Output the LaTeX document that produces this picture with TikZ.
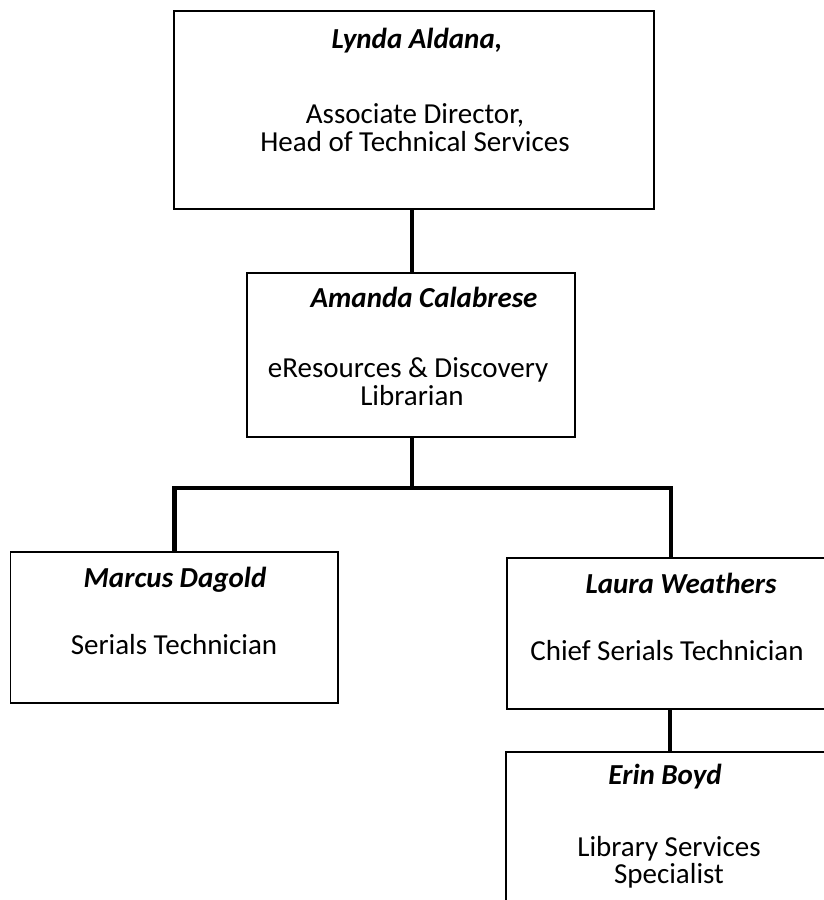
\documentclass[tikz,border=0pt]{standalone}
\usepackage{fontspec}
\setmainfont{Carlito}
\begin{document}
\begin{tikzpicture}[x=1pt,y=-1pt,
  box/.style={draw=black,line width=1.8pt,rectangle,inner sep=0pt},
  txt/.style={inner sep=0pt,anchor=base,font=\fontsize{29}{28}\selectfont},
  nm/.style={txt,font=\fontsize{29}{28}\selectfont\bfseries\itshape},
  conn/.style={line width=4.5pt,line join=miter}]
\useasboundingbox (0,0) rectangle (824,900);
\clip (0,0) rectangle (824,900);
\fill[white] (0,0) rectangle (824,900);
% boxes
\node[box,minimum width=480pt,minimum height=198pt] (b1) at (414,110) {};
\node[box,minimum width=328pt,minimum height=164pt] (b2) at (411,355) {};
\node[box,minimum width=327.5pt,minimum height=151pt] (b3) at (174.25,627.5) {};
\node[box,minimum width=328pt,minimum height=151pt] (b4) at (671,633.5) {};
\node[box,minimum width=328pt,minimum height=164pt] (b5) at (670,834) {};
\coordinate (bar) at (412,488);
% connectors
\draw[conn] (b1.south -| bar) -- (b2.north -| bar);
\draw[conn] (b2.south -| bar) -- (bar);
\draw[conn] (b3.north) |- (bar) -| (b4.north);
\draw[conn] (b4.south -| b5.north) -- (b5.north);
% texts
\node[nm] (t1a) at (417,48) {Lynda Aldana,};
\node[txt] (t1b) at (415,123) {Associate Director,};
\node[txt] (t1c) at (415,151) {Head of Technical Services};
\node[nm] (t2a) at (424,307) {Amanda Calabrese};
\node[txt] (t2b) at (408,377) {eResources \& Discovery};
\node[txt] (t2c) at (412,405) {Librarian};
\node[nm] (t3a) at (175,587) {Marcus Dagold};
\node[txt] (t3b) at (174,654) {Serials Technician};
\node[nm] (t4a) at (681,593) {Laura Weathers};
\node[txt] (t4b) at (667,660) {Chief Serials Technician};
\node[nm] (t5a) at (665,784) {Erin Boyd};
\node[txt] (t5b) at (669,856) {Library Services};
\node[txt] (t5c) at (669,883) {Specialist};
\end{tikzpicture}
\end{document}
